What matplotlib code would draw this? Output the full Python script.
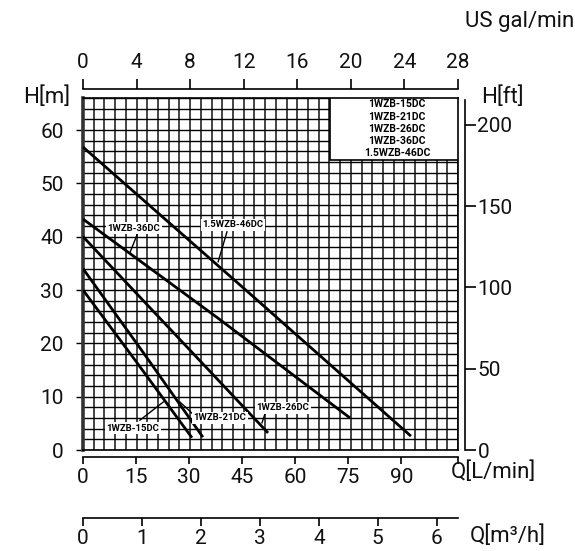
import numpy as np
import matplotlib
matplotlib.use("Agg")
import matplotlib.pyplot as plt
from matplotlib.patches import Rectangle

plt.rcParams['font.family'] = ['Roboto', 'DejaVu Sans']

W, H = 575, 551
XMAX = 106.0   # L/min  (= 28 US gal/min)
HMAX = 66.0    # m

# pump curves, flow in L/min, head in m
models = ["1WZB-15DC", "1WZB-21DC", "1WZB-26DC", "1WZB-36DC", "1.5WZB-46DC"]
flow_15 = [0, 15, 30.8]
head_15 = [30, 16.6, 2.3]
flow_21 = [0, 17, 33.9]
head_21 = [34, 18.3, 2.4]
flow_26 = [0, 26, 52.3]
head_26 = [40, 21.7, 3.2]
flow_36 = [0, 38, 75.5]
head_36 = [43.3, 24.8, 6.0]
flow_46 = [0, 46, 92.7]
head_46 = [56.8, 30.0, 2.6]

# curve labels: text position and leader line (L/min, m)
lab_names = ["1WZB-36DC", "1.5WZB-46DC", "1WZB-15DC", "1WZB-21DC", "1WZB-26DC"]
lab_x = [14.4, 42.4, 14.1, 38.7, 56.5]
lab_y = [41.6, 42.2, 4.1, 6.0, 7.9]
lead_x = [[15.5, 13.2], [40.7, 38.2], [16.1, 22.7], [30.8, 27.4], [51.5, 50.6]]
lead_y = [[40.7, 36.9], [40.9, 35.3], [5.6, 9.0], [6.9, 9.0], [6.9, 5.1]]

gal_ticks = [0, 4, 8, 12, 16, 20, 24, 28]
lmin_ticks = [0, 15, 30, 45, 60, 75, 90]
m3h_ticks = [0, 1, 2, 3, 4, 5, 6]
m_ticks = [0, 10, 20, 30, 40, 50, 60]
ft_ticks = [0, 50, 100, 150, 200]

FS = 15
LW = 'normal'
TC = '#111111'


def fx(px):
    return px / W


def fy(py):
    return 1 - py / H


fig = plt.figure(figsize=(W / 100, H / 100), dpi=100)

# main chart
ax = fig.add_axes([fx(83), fy(450), fx(458) - fx(83), fy(98) - fy(450)])
ax.set_xlim(0, XMAX)
ax.set_ylim(0, HMAX)
ax.vlines(np.linspace(0, XMAX, 36), 0, HMAX, color='#444444', lw=1.4, zorder=1)
ax.hlines(np.arange(0, HMAX + 1, 2), 0, XMAX, color='black', lw=1.0, zorder=1)
for s in ['top', 'right', 'bottom']:
    ax.spines[s].set_linewidth(1.2)
ax.spines['left'].set_linewidth(2.6)
ax.spines['left'].set_color('#333333')
ax.set_xticks([])
ax.set_yticks(m_ticks)
ax.set_yticklabels([str(t) for t in m_ticks], fontsize=FS, fontweight=LW, color=TC)
ax.tick_params(axis='y', direction='out', length=5, width=1, pad=9)

for q, h in [(flow_15, head_15), (flow_21, head_21), (flow_26, head_26),
             (flow_36, head_36), (flow_46, head_46)]:
    ax.plot(q, h, color='black', lw=2, zorder=3, solid_capstyle='butt')

for name, tx, ty, lx, ly in zip(lab_names, lab_x, lab_y, lead_x, lead_y):
    ax.plot(lx, ly, color='black', lw=1, zorder=4)
    ax.text(tx, ty, name, fontsize=6.8, fontweight='bold', ha='center', va='center',
            zorder=5, bbox=dict(fc='white', ec='none', pad=1.2))

# legend box
ax.add_patch(Rectangle((69.8, 54.4), XMAX - 69.8, HMAX - 54.4, fc='white',
                       ec='black', lw=1.2, zorder=4))
for i, name in enumerate(models):
    ax.text(88.8, 64.8 - i * 2.3, name, fontsize=7.5, fontweight='bold',
            ha='center', va='center', zorder=5)

fig.text(fx(70), fy(97), "H[m]", fontsize=FS + 1, fontweight=LW, color=TC,
         ha='right', va='center')

# top axis: US gal/min
axt = fig.add_axes([fx(83), fy(89), fx(458) - fx(83), 0])
axt.set_xlim(0, 28)
for s in ['left', 'right', 'bottom']:
    axt.spines[s].set_visible(False)
axt.spines['top'].set_linewidth(1.2)
axt.set_yticks([])
axt.xaxis.set_ticks_position('top')
axt.set_xticks(gal_ticks)
axt.set_xticklabels([str(t) for t in gal_ticks], fontsize=FS, fontweight=LW, color=TC)
axt.tick_params(axis='x', direction='out', length=7, width=1.2, pad=5)
fig.text(fx(574), fy(22), "US gal/min", fontsize=FS + 1, fontweight=LW, color=TC,
         ha='right', va='center')

# right axis: ft
axr = fig.add_axes([fx(465), fy(450), 0, fy(98) - fy(450)])
axr.set_ylim(0, HMAX * 3.2808)
for s in ['left', 'top', 'bottom']:
    axr.spines[s].set_visible(False)
axr.spines['right'].set_linewidth(1.2)
axr.spines['right'].set_bounds(0, 215)
axr.set_xticks([])
axr.yaxis.set_ticks_position('right')
axr.set_yticks(ft_ticks)
axr.set_yticklabels([str(t) for t in ft_ticks], fontsize=FS, fontweight=LW, color=TC)
axr.tick_params(axis='y', direction='out', length=8, width=1.2, pad=1)
fig.text(fx(481), fy(97), "H[ft]", fontsize=FS + 1, fontweight=LW, color=TC,
         ha='left', va='center')

# bottom axis: L/min
axb = fig.add_axes([fx(83), fy(457), fx(458) - fx(83), 0])
axb.set_xlim(0, XMAX)
for s in ['left', 'right', 'top']:
    axb.spines[s].set_visible(False)
axb.spines['bottom'].set_linewidth(1.2)
axb.set_yticks([])
axb.set_xticks(lmin_ticks + [XMAX])
axb.set_xticklabels([str(t) for t in lmin_ticks] + [""], fontsize=FS, fontweight=LW,
                    color=TC)
axb.tick_params(axis='x', direction='out', length=5, width=1.2, pad=3)
fig.text(fx(451), fy(472), "Q[L/min]", fontsize=FS + 1, fontweight=LW, color=TC,
         ha='left', va='center')

# bottom axis: m3/h
axm = fig.add_axes([fx(83), fy(518), fx(458) - fx(83), 0])
axm.set_xlim(0, XMAX * 0.06)
for s in ['left', 'right', 'top']:
    axm.spines[s].set_visible(False)
axm.spines['bottom'].set_linewidth(1.2)
axm.set_yticks([])
axm.set_xticks(m3h_ticks)
axm.set_xticklabels([str(t) for t in m3h_ticks], fontsize=FS, fontweight=LW, color=TC)
axm.tick_params(axis='x', direction='out', length=6, width=1.2, pad=2)
fig.text(fx(470), fy(536), "Q[m³/h]", fontsize=FS + 1, fontweight=LW, color=TC,
         ha='left', va='center')

fig.savefig("out.png", dpi=100)
